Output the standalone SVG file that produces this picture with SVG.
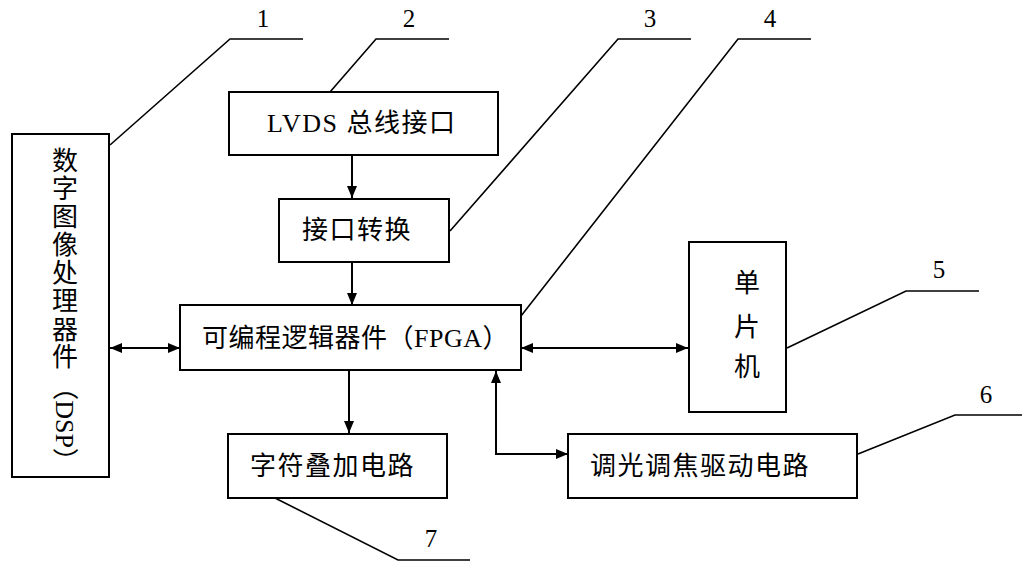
<svg xmlns="http://www.w3.org/2000/svg" width="1027" height="565" viewBox="0 0 1027 565">
<style>
.box{fill:#fff;stroke:#000;stroke-width:2}
.ln{fill:none;stroke:#000;stroke-width:2}
.ld{fill:none;stroke:#000;stroke-width:1.6}
.t{font-family:"Liberation Serif","Noto Sans CJK SC",serif;font-size:26px;fill:#000;letter-spacing:1.5px}
.v{font-family:"Liberation Serif","Noto Sans CJK SC",serif;font-size:26px;fill:#000;text-anchor:middle}
.n{font-family:"Liberation Serif",serif;font-size:25px;fill:#000;text-anchor:middle}
</style>
<defs>
<marker id="ah" viewBox="0 0 12 10" refX="12" refY="5" markerWidth="12" markerHeight="10" markerUnits="userSpaceOnUse" orient="auto-start-reverse">
<path d="M0,0 L12,5 L0,10 Z" fill="#000"/>
</marker>
</defs>
<rect width="1027" height="565" fill="#fff"/>

<g id="connectors">
<line class="ln" x1="352" y1="155" x2="352" y2="198" marker-end="url(#ah)"/>
<line class="ln" x1="352" y1="262" x2="352" y2="305" marker-end="url(#ah)"/>
<line class="ln" x1="110" y1="348" x2="180" y2="348" marker-start="url(#ah)" marker-end="url(#ah)"/>
<line class="ln" x1="521" y1="348" x2="688" y2="348" marker-start="url(#ah)" marker-end="url(#ah)"/>
<line class="ln" x1="349" y1="370" x2="349" y2="433" marker-end="url(#ah)"/>
<polyline class="ln" points="496,371 496,454 568,454" marker-start="url(#ah)" marker-end="url(#ah)"/>
</g>

<g id="leaders">
<polyline class="ld" points="110,145 230,39 303,39"/>
<polyline class="ld" points="330,92 376,39 449,39"/>
<polyline class="ld" points="450,231 618,39 691,39"/>
<polyline class="ld" points="521,316 738,39 811,39"/>
<polyline class="ld" points="787,348 906,291 979,291"/>
<polyline class="ld" points="858,454 955,415 1022,415"/>
<polyline class="ld" points="275,498 398,560 470,560"/>
<text class="n" x="263" y="27">1</text>
<text class="n" x="409" y="27">2</text>
<text class="n" x="650" y="27">3</text>
<text class="n" x="770" y="27">4</text>
<text class="n" x="939" y="278">5</text>
<text class="n" x="986" y="403">6</text>
<text class="n" x="431" y="547">7</text>
</g>

<g id="dsp">
<rect class="box" x="12" y="134" width="97" height="343"/>
<text class="v" x="65" y="170">数</text>
<text class="v" x="65" y="198">字</text>
<text class="v" x="65" y="226">图</text>
<text class="v" x="65" y="254">像</text>
<text class="v" x="65" y="282">处</text>
<text class="v" x="65" y="310">理</text>
<text class="v" x="65" y="339">器</text>
<text class="v" x="65" y="366">件</text>
<text class="v" transform="translate(56,424) rotate(90)" x="0" y="0">（DSP）</text>
</g>

<g id="lvds">
<rect class="box" x="229" y="92" width="269" height="63"/>
<text class="t" x="267" y="132" letter-spacing="0">LVDS <tspan letter-spacing="1.5">总线接口</tspan></text>
</g>

<g id="conv">
<rect class="box" x="279" y="199" width="170" height="63"/>
<text class="t" x="302" y="239">接口转换</text>
</g>

<g id="fpga">
<rect class="box" x="180" y="305" width="341" height="65"/>
<text class="t" x="202" y="347" letter-spacing="0" textLength="308" lengthAdjust="spacing">可编程逻辑器件（FPGA）</text>
</g>

<g id="mcu">
<rect class="box" x="689" y="242" width="97" height="170"/>
<text class="v" x="747" y="292">单</text>
<text class="v" x="747" y="336">片</text>
<text class="v" x="747" y="376">机</text>
</g>

<g id="osd">
<rect class="box" x="228" y="434" width="219" height="64"/>
<text class="t" x="250" y="475">字符叠加电路</text>
</g>

<g id="focus">
<rect class="box" x="568" y="434" width="289" height="64"/>
<text class="t" x="590" y="475">调光调焦驱动电路</text>
</g>
</svg>
